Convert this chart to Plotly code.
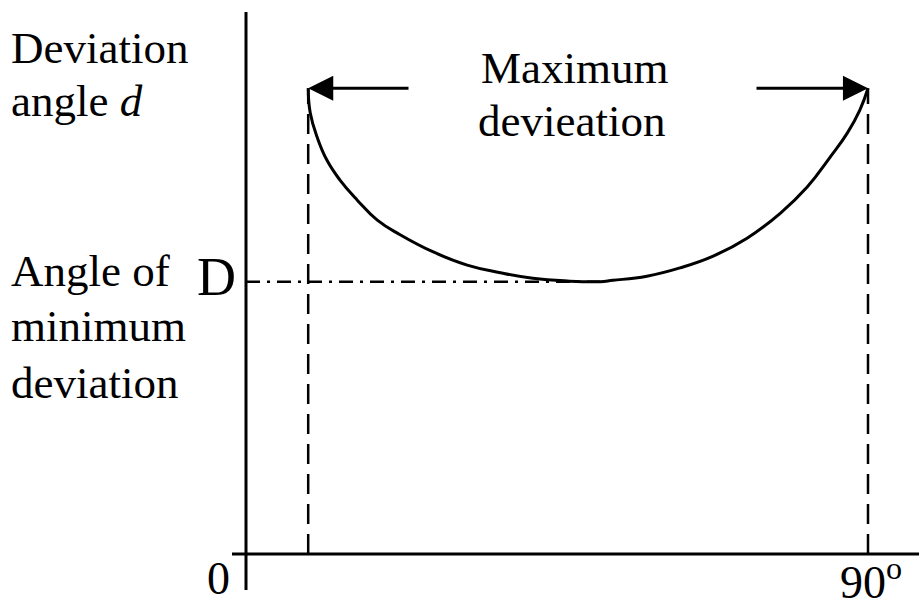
import plotly.graph_objects as go

# ---- data (angle of incidence vs deviation, degrees) ----
incidence = [9.0, 9.3, 10.3, 11.7, 13.6, 16.1, 19.0, 22.3, 27.1, 32.0, 36.8, 41.5, 46.5, 51.2,
             53.1, 58.0, 62.8, 67.6, 72.5, 77.3, 81.2, 84.5, 87.0, 88.8, 90.0]
deviation = [67.4, 63.8, 60.3, 57.0, 54.1, 51.2, 48.3, 46.2, 43.7, 41.8, 40.7, 39.9, 39.5, 39.4,
             39.6, 40.2, 41.4, 43.1, 45.7, 49.3, 53.1, 57.4, 60.9, 64.2, 67.4]
x_tick_labels = ["0", "90<sup>o</sup>"]
y_tick_label = "D"

# ---- layout helpers (pixel -> data) ----
W, H = 919, 608
X0_PX, Y0_PX = 246, 554
S = (868 - 246) / 90.0


def px2x(px):
    return (px - X0_PX) / S


def px2y(py):
    return (Y0_PX - py) / S


FONT = "Liberation Serif"
BLACK = "#000000"

fig = go.Figure()

d_min = min(deviation)
i_min = incidence[deviation.index(d_min)]

# dashed verticals at the two ends
for xv, yv in [(incidence[0], deviation[0]), (incidence[-1], deviation[-1])]:
    fig.add_trace(go.Scatter(x=[xv, xv], y=[0, yv], mode="lines",
                             line=dict(color=BLACK, width=2.5, dash="20px,10px"),
                             hoverinfo="skip", showlegend=False))

# dash-dot line at minimum deviation
fig.add_trace(go.Scatter(x=[0, i_min], y=[d_min, d_min], mode="lines",
                         line=dict(color=BLACK, width=2.5, dash="14px,7px,3px,7px"),
                         hoverinfo="skip", showlegend=False))

# deviation curve
fig.add_trace(go.Scatter(x=incidence, y=deviation, mode="lines",
                         line=dict(color=BLACK, width=3, shape="spline", smoothing=1.3),
                         hoverinfo="skip", showlegend=False))

# axes drawn as lines
fig.add_shape(type="line", x0=0, x1=0, y0=px2y(590), y1=px2y(12),
              line=dict(color=BLACK, width=3), xref="x", yref="y")
fig.add_shape(type="line", x0=px2x(232), x1=px2x(919), y0=0, y1=0,
              line=dict(color=BLACK, width=3), xref="x", yref="y")

annotations = []
# arrows pointing to the maximum deviation
annotations.append(dict(x=incidence[0], y=deviation[0], ax=px2x(410), ay=deviation[0],
                        xref="x", yref="y", axref="x", ayref="y", text="",
                        showarrow=True, arrowhead=2, arrowsize=1.67, arrowwidth=3,
                        arrowcolor=BLACK))
annotations.append(dict(x=incidence[-1], y=deviation[-1], ax=px2x(755), ay=deviation[-1],
                        xref="x", yref="y", axref="x", ayref="y", text="",
                        showarrow=True, arrowhead=2, arrowsize=1.67, arrowwidth=3,
                        arrowcolor=BLACK))


def label(text, xpx, ypx, size=45, xanchor="left"):
    annotations.append(dict(x=px2x(xpx), y=px2y(ypx), xref="x", yref="y", text=text,
                            showarrow=False, xanchor=xanchor, yanchor="middle",
                            font=dict(family=FONT, size=size, color=BLACK)))


label("Deviation", 9, 48)
label("angle <i>d</i>", 9, 101)
label("Angle of", 9, 271)
label("minimum", 9, 326)
label("deviation", 9, 383)
label("Maximum", 575, 68, xanchor="center")
label("devieation", 571, 121, xanchor="center")
label(y_tick_label, 195, 277, size=54)
label(x_tick_labels[0], 205, 578, size=46)
label(x_tick_labels[1], 838, 579, size=46)

fig.update_layout(
    width=W, height=H,
    margin=dict(l=0, r=0, t=0, b=0),
    paper_bgcolor="white", plot_bgcolor="white",
    xaxis=dict(range=[px2x(0), px2x(W)], visible=False, fixedrange=True),
    yaxis=dict(range=[px2y(H), px2y(0)], visible=False, fixedrange=True),
    annotations=annotations,
    showlegend=False,
)

fig.write_html("out.html", config={"displayModeBar": False},
               post_script="document.body.style.margin='0';document.body.style.overflow='hidden';")
